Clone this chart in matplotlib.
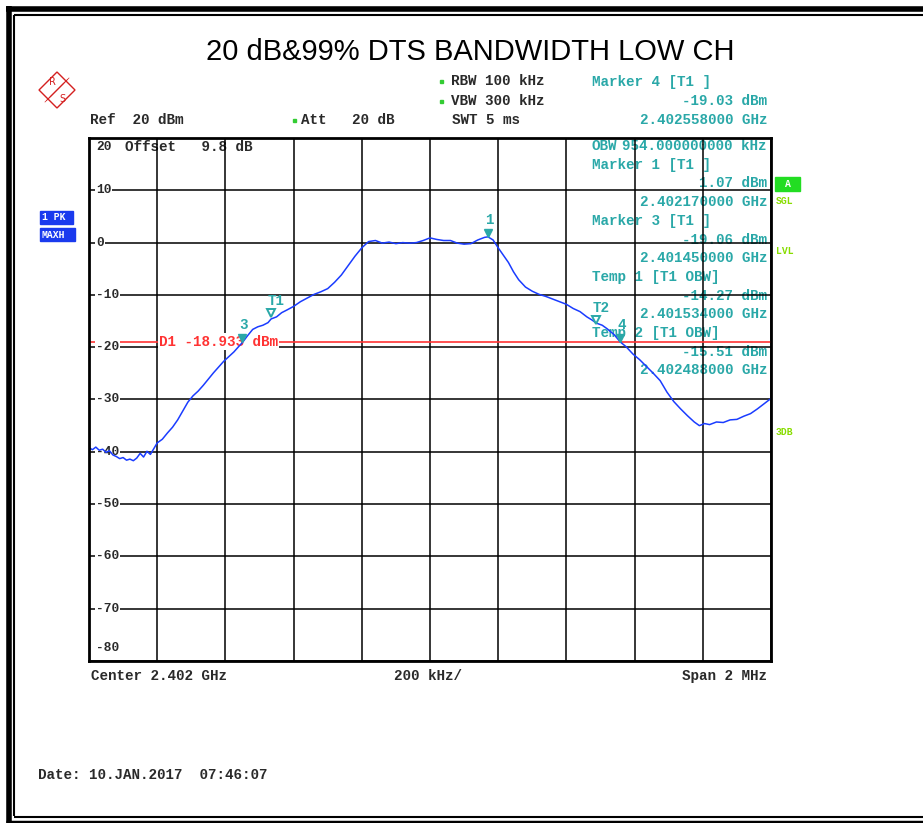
import matplotlib
matplotlib.use("Agg")
import matplotlib.pyplot as plt
import matplotlib.transforms as mtransforms
from matplotlib.lines import Line2D
from matplotlib.patches import Polygon, Rectangle

trace_mhz = [
    0.000, 0.010, 0.020, 0.030, 0.040, 0.050, 0.060, 0.070, 0.080, 0.090,
    0.100, 0.110, 0.120, 0.130, 0.140, 0.150, 0.160, 0.170, 0.180, 0.190,
    0.200, 0.215, 0.230, 0.245, 0.260, 0.275, 0.290, 0.305, 0.320, 0.335,
    0.350, 0.365, 0.380, 0.395, 0.410, 0.425, 0.440, 0.450, 0.465, 0.480,
    0.495, 0.510, 0.525, 0.534, 0.550, 0.565, 0.580, 0.600, 0.620, 0.640,
    0.660, 0.680, 0.700, 0.720, 0.740, 0.760, 0.780, 0.800, 0.820, 0.840,
    0.860, 0.880, 0.900, 0.920, 0.940, 0.960, 0.980, 1.000, 1.020, 1.040,
    1.060, 1.080, 1.100, 1.120, 1.140, 1.160, 1.170, 1.185, 1.200, 1.215,
    1.230, 1.245, 1.260, 1.280, 1.300, 1.320, 1.340, 1.360, 1.380, 1.400,
    1.420, 1.440, 1.460, 1.475, 1.488, 1.505, 1.520, 1.540, 1.558, 1.575,
    1.595, 1.615, 1.635, 1.655, 1.675, 1.695, 1.715, 1.735, 1.755, 1.775,
    1.790, 1.805, 1.820, 1.840, 1.860, 1.880, 1.900, 1.920, 1.940, 1.960,
    1.980, 2.000,
]
trace_dbm = [
    -39.2, -39.6, -39.1, -39.7, -39.5, -40.1, -39.8, -40.6, -40.9, -41.3,
    -41.1, -41.6, -41.4, -41.7, -41.2, -40.3, -41.0, -39.9, -40.5, -39.4,
    -38.3, -37.6, -36.4, -35.3, -33.9, -32.2, -30.5, -29.3, -28.4, -27.3,
    -26.1, -24.9, -23.8, -22.7, -21.8, -20.9, -19.8, -19.1, -17.8, -16.6,
    -16.1, -15.8, -15.3, -14.6, -14.2, -13.4, -12.9, -12.2, -11.3, -10.6,
    -9.9, -9.4, -8.8, -7.6, -6.2, -4.4, -2.6, -1.0, 0.2, 0.4,
    -0.1, 0.1, -0.2, 0.0, -0.1, 0.0, 0.4, 0.9, 0.6, 0.4,
    0.4, -0.1, -0.3, -0.2, 0.5, 1.0, 1.1, 0.5, -1.0, -2.4,
    -3.8, -5.6, -7.1, -8.5, -9.3, -9.9, -10.3, -10.8, -11.3, -11.8,
    -12.6, -13.2, -14.2, -14.8, -15.4, -15.8, -16.5, -17.6, -19.0, -19.9,
    -21.3, -22.4, -23.7, -25.0, -26.4, -28.6, -30.4, -31.8, -33.1, -34.3,
    -35.0, -34.6, -34.8, -34.3, -34.4, -33.9, -33.8, -33.2, -32.7, -31.8,
    -30.8, -29.8,
]

marker_names = ["1", "3", "4"]
marker_ghz = [2.402170, 2.401450, 2.402558]
marker_dbm = [1.07, -19.06, -19.03]

temp_names = ["T1", "T2"]
temp_ghz = [2.401534, 2.402488]
temp_dbm = [-14.27, -15.51]

d1_level = -18.93
y_ticks = [10, 0, -10, -20, -30, -40, -50, -60, -70]

readout_left = ["OBW", "Marker 1 [T1 ]", "Marker 3 [T1 ]", "Temp 1 [T1 OBW]", "Temp 2 [T1 OBW]"]
readout_right = ["954.000000000 kHz", "1.07 dBm", "2.402170000 GHz", "-19.06 dBm",
                 "2.401450000 GHz", "-14.27 dBm", "2.401534000 GHz", "-15.51 dBm",
                 "2.402488000 GHz"]

W, H = 923, 823
MONO = "Liberation Mono"
TEAL = "#2aa8a8"
DARK = "#2a2a2a"


def fx(x):
    return x / W


def fy(y):
    return 1 - y / H


fig = plt.figure(figsize=(W / 100, H / 100), dpi=100)

# outer frame (double line, cut off on the right)
for (x0, y0, x1, y1, lw) in [(6, 8.5, 923, 8.5, 4.0), (8.5, 6, 8.5, 823, 4.0),
                             (14, 15, 923, 15, 1.5), (14, 15, 14, 816, 1.5),
                             (14, 816.5, 923, 816.5, 1.5), (6, 821.5, 923, 821.5, 2.5)]:
    fig.add_artist(Line2D([fx(x0), fx(x1)], [fy(y0), fy(y1)], transform=fig.transFigure,
                          color="k", lw=lw, solid_capstyle="butt"))

fig.text(fx(470), fy(52), "20 dB&99% DTS BANDWIDTH LOW CH", ha="center", va="center",
         fontsize=21, family="Liberation Sans")

# R&S logo, roughly
cx, cy, r = 57, 90, 18
fig.add_artist(Polygon([(fx(cx), fy(cy - r)), (fx(cx + r), fy(cy)), (fx(cx), fy(cy + r)),
                        (fx(cx - r), fy(cy))], closed=True, fill=False, ec="#d42020", lw=1.0,
                       transform=fig.transFigure))
for k in range(-2, 3):
    fig.add_artist(Line2D([fx(cx - 9 + k * 1.5), fx(cx + 9 + k * 1.5)],
                          [fy(cy + 9 - k * 1.5), fy(cy - 9 - k * 1.5)],
                          transform=fig.transFigure, color="#d42020", lw=0.5))
fig.text(fx(52), fy(82), "R", color="#d42020", fontsize=7, ha="center", va="center", family="DejaVu Sans")
fig.text(fx(62), fy(99), "S", color="#d42020", fontsize=7, ha="center", va="center", family="DejaVu Sans")

mono = dict(family=MONO, fontsize=10.3, fontweight="bold", va="center")

# header settings
fig.text(fx(90), fy(120), "Ref  20 dBm", color=DARK, **mono)
fig.text(fx(301), fy(120), "Att   20 dB", color=DARK, **mono)
fig.text(fx(451), fy(81), "RBW 100 kHz", color=DARK, **mono)
fig.text(fx(451), fy(101), "VBW 300 kHz", color=DARK, **mono)
fig.text(fx(452), fy(120), "SWT 5 ms", color=DARK, **mono)
for (gx, gy) in [(441, 81), (441, 101), (294, 120)]:
    fig.add_artist(Rectangle((fx(gx - 1.5), fy(gy + 1.5)), 3 / W, 3 / H, color="#33cc33",
                             transform=fig.transFigure))
fig.text(fx(592), fy(82), "Marker 4 [T1 ]", color=TEAL, **mono)
fig.text(fx(767), fy(101), "-19.03 dBm", color=TEAL, ha="right", **mono)
fig.text(fx(767), fy(120), "2.402558000 GHz", color=TEAL, ha="right", **mono)

# side status boxes
small = dict(family=MONO, fontsize=7, fontweight="bold", va="center")
for (bx, by, bw, txt) in [(40, 211, 33, "1 PK"), (40, 228, 35, "MAXH")]:
    fig.add_artist(Rectangle((fx(bx), fy(by + 13)), bw / W, 13 / H, color="#1a3aee",
                             transform=fig.transFigure))
    fig.text(fx(bx + 2), fy(by + 6.5), txt, color="white", **small)
fig.add_artist(Rectangle((fx(775), fy(191)), 25 / W, 14 / H, color="#22dd22",
                         transform=fig.transFigure))
fig.text(fx(787.5), fy(184), "A", color="white", ha="center", **small)
for (lx, ly, txt) in [(776, 201, "SGL"), (776, 251, "LVL"), (776, 432, "3DB")]:
    fig.text(fx(lx), fy(ly), txt, color="#88dd00", **small)

# main screen
ax = fig.add_axes([fx(89), fy(661), (771 - 89) / W, (661 - 138) / H])
ax.set_xlim(2.401, 2.403)
ax.set_ylim(-80, 20)
ax.set_xticks([2.401 + i * 0.0002 for i in range(11)])
ax.set_yticks([20 - i * 10 for i in range(11)])
ax.tick_params(length=0, labelbottom=False, labelleft=False)
ax.set_axisbelow(False)
ax.grid(True, color="k", lw=1.1)
for s in ax.spines.values():
    s.set_linewidth(2.0)
    s.set_zorder(4)

freq_ghz = [2.401 + m / 1000 for m in trace_mhz]
ax.plot(freq_ghz, trace_dbm, color="#1a3cff", lw=1.1, zorder=3)

ax.axhline(d1_level, color="#ff3333", lw=1.2, zorder=2.6)
ax.text(2.401 + 0.00020 * 70 / 68.2, d1_level, "D1 -18.933 dBm", color="#ff3333",
        bbox=dict(fc="white", ec="none", pad=1.0), zorder=2.8, **mono)

ylab = mtransforms.blended_transform_factory(ax.transAxes, ax.transData)
for v in y_ticks:
    ax.text(7 / 682, v, str(v), transform=ylab, color=DARK, zorder=2.8,
            bbox=dict(fc="white", ec="none", pad=0.6),
            **{**mono, "fontsize": 9.3})
ax.text(7 / 682, 18.3, "20", transform=ylab, color=DARK, zorder=2.8, **{**mono, "fontsize": 9.3})
ax.text(7 / 682, -77.5, "-80", transform=ylab, color=DARK, zorder=2.8, **{**mono, "fontsize": 9.3})
ax.text(fx(125), fy(147), "Offset   9.8 dB", transform=fig.transFigure, color=DARK, zorder=1, **mono)

# readout block inside the screen, drawn under the grid
rows = [146 + i * 18.7 for i in range(13)]
left_rows = [rows[0], rows[1], rows[4], rows[7], rows[10]]
right_rows = [rows[0], rows[2], rows[3], rows[5], rows[6], rows[8], rows[9], rows[11], rows[12]]
for txt, yy in zip(readout_left, left_rows):
    ax.text(fx(592), fy(yy), txt, transform=fig.transFigure, color=TEAL, zorder=1, **mono)
for txt, yy in zip(readout_right, right_rows):
    ax.text(fx(767), fy(yy), txt, transform=fig.transFigure, color=TEAL, ha="right", zorder=1, **mono)

# markers
up = mtransforms.offset_copy(ax.transData, fig=fig, y=4, units="dots")
for name, f, lv in zip(marker_names, marker_ghz, marker_dbm):
    ax.plot([f], [lv], marker="v", ms=6, color=TEAL, transform=up, zorder=6)
    ax.annotate(name, (f, lv), xytext=(1, 17), textcoords="offset pixels", color=TEAL,
                ha="center", zorder=6, **mono)
for name, f, lv in zip(temp_names, temp_ghz, temp_dbm):
    ax.plot([f], [lv], marker="v", ms=6, mfc="none", mec=TEAL, mew=1.4, transform=up, zorder=6)
    ax.annotate(name, (f, lv), xytext=(5, 16), textcoords="offset pixels", color=TEAL,
                ha="center", zorder=6, **mono)

# footer
fig.text(fx(91), fy(676), "Center 2.402 GHz", color=DARK, **mono)
fig.text(fx(394), fy(676), "200 kHz/", color=DARK, **mono)
fig.text(fx(767), fy(676), "Span 2 MHz", color=DARK, ha="right", **mono)
fig.text(fx(38), fy(775), "Date: 10.JAN.2017  07:46:07", color=DARK, **mono)

fig.savefig("out.png", dpi=100, facecolor="white")
